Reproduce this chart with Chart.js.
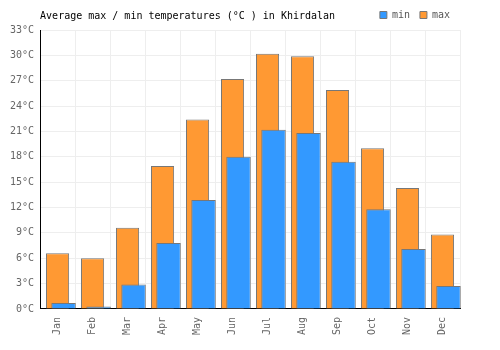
<!DOCTYPE html>
<html>
<head>
<meta charset="utf-8">
<script src="https://cdn.jsdelivr.net/npm/chart.js@4/dist/chart.umd.min.js"></script>
<style>
  html, body { margin: 0; padding: 0; background: #fff; }
  #wrap { width: 500px; height: 350px; position: relative; }
</style>
</head>
<body>
<div id="wrap"><canvas id="c" width="500" height="350"></canvas></div>
<script>
const TITLE = 'Average max / min temperatures (°C ) in Khirdalan';
const months = ['Jan','Feb','Mar','Apr','May','Jun','Jul','Aug','Sep','Oct','Nov','Dec'];
const minTemps = [0.7, 0.3, 2.9, 7.8, 12.9, 18.0, 21.2, 20.8, 17.4, 11.8, 7.1, 2.7];
const maxTemps = [6.6, 6.0, 9.6, 16.9, 22.4, 27.2, 30.2, 29.9, 25.9, 19.0, 14.3, 8.8];
const yMin = 0, yMax = 33, yStep = 3;
const unit = '°C';

const FONT = 'DejaVu Sans Mono';

// shift the "min" bars a little to the right of the "max" bars (overlapping look)
const shiftPlugin = {
  id: 'shift',
  beforeDatasetDraw(chart, args) {
    if (args.index === 0) { chart.ctx.save(); chart.ctx.translate(6, 0); }
  },
  afterDatasetDraw(chart, args) {
    if (args.index === 0) { chart.ctx.restore(); }
  }
};

new Chart(document.getElementById('c'), {
  type: 'bar',
  data: {
    labels: months,
    datasets: [
      { label: 'min', data: minTemps, backgroundColor: '#3399ff', borderColor: '#777777',
        borderWidth: 1, grouped: false, barPercentage: 0.70, categoryPercentage: 1 },
      { label: 'max', data: maxTemps, backgroundColor: '#ff9933', borderColor: '#777777',
        borderWidth: 1, grouped: false, barPercentage: 0.66, categoryPercentage: 1 }
    ]
  },
  options: {
    responsive: false,
    animation: false,
    layout: { padding: { left: 4, right: 40, top: 0, bottom: 7 } },
    plugins: {
      title: {
        display: true, text: TITLE, align: 'start', fullSize: false, color: '#000',
        font: { family: FONT, size: 10, weight: 'normal' },
        padding: { top: 10, bottom: -22 }
      },
      legend: {
        display: true, position: 'top', align: 'end',
        labels: { boxWidth: 7, boxHeight: 7, padding: 10, color: '#555',
          font: { family: FONT, size: 10 } }
      },
      tooltip: { enabled: false }
    },
    scales: {
      x: {
        grid: { color: '#eeeeee', drawTicks: false, offset: true },
        border: { color: '#000', width: 1 },
        ticks: { color: '#666', minRotation: 90, maxRotation: 90, padding: 8,
          font: { family: FONT, size: 10 } }
      },
      y: {
        min: yMin, max: yMax,
        grid: { color: '#eeeeee', drawTicks: false },
        border: { color: '#000', width: 1 },
        ticks: { stepSize: yStep, color: '#666', padding: 6,
          font: { family: FONT, size: 10 },
          callback: v => v + unit }
      }
    }
  },
  plugins: [shiftPlugin]
});
</script>
</body>
</html>
